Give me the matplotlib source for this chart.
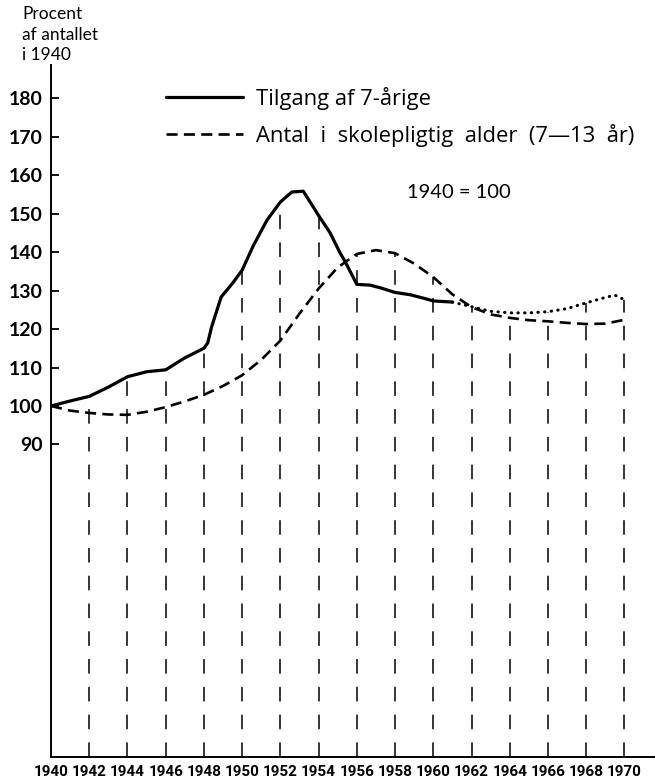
import numpy as np
import matplotlib
matplotlib.use("Agg")
import matplotlib.pyplot as plt

# Tilgang af 7-aarige (solid, measured part)
tilgang_years = [1940, 1941, 1942, 1943, 1944, 1945, 1946, 1947, 1948, 1948.2, 1948.4,
                 1948.9, 1949.5, 1950, 1950.6, 1951.3, 1952, 1952.6, 1953.2, 1954,
                 1954.6, 1955.1, 1955.4, 1956, 1956.7, 1957.3, 1958, 1958.8, 1959.5,
                 1960, 1961]
tilgang_vals = [100, 101.3, 102.5, 104.9, 107.6, 108.9, 109.4, 112.5, 115, 116.4, 120.5,
                128.3, 131.9, 135.3, 141.8, 148.3, 153, 155.6, 155.8, 149.5,
                145, 140, 137.4, 131.6, 131.4, 130.6, 129.5, 128.9, 128,
                127.3, 127]

# Tilgang, prognosis (dotted)
prog_years = [1961, 1962, 1963, 1964, 1965, 1966, 1967, 1968, 1969, 1969.5, 1970]
prog_vals = [127, 125.8, 124.6, 124.2, 124.2, 124.5, 125.3, 126.8, 128.2, 128.8, 127.6]

# Antal i skolepligtig alder (dashed)
antal_years = list(range(1940, 1971))
antal_vals = [100, 98.8, 98.2, 97.8, 97.7, 98.5, 99.7, 101.2, 102.9, 105.2,
              108, 112, 117, 124, 130.5, 136, 139.5, 140.5, 139.7, 137,
              133.5, 129, 125.7, 123.8, 122.9, 122.3, 122, 121.6, 121.3, 121.4, 122.4]

grid_years = list(range(1942, 1971, 2))
x_ticks = list(range(1940, 1971, 2))
y_ticks = list(range(90, 190, 10))

plt.rcParams['lines.scale_dashes'] = False
txt_font = ['Lato', 'DejaVu Sans']
leg_font = ['Open Sans', 'DejaVu Sans']
num_font = ['Roboto', 'DejaVu Sans']

fig = plt.figure(figsize=(6.55, 7.82), dpi=100)
ax = fig.add_axes([51/655, 25/782, 1 - 51/655, (757 - 65)/782])

# vertical dashed guide lines from the axis up to the highest curve
all_t_years = tilgang_years + prog_years[1:]
all_t_vals = tilgang_vals + prog_vals[1:]
tops = np.maximum(np.interp(grid_years, all_t_years, all_t_vals),
                  np.interp(grid_years, antal_years, antal_vals))
ax.vlines(grid_years, 8.8, tops, colors='black', linewidth=1.1,
          linestyles=[(0, (10.5, 9.5))])

ax.plot(tilgang_years, tilgang_vals, color='black', lw=2.3,
        solid_capstyle='round', label='Tilgang af 7-årige')
ax.plot(prog_years, prog_vals, color='black', lw=2.2, linestyle=(0, (0.3, 4.5)),
        dash_capstyle='round')
ax.plot(antal_years, antal_vals, color='black', lw=1.9, linestyle=(0, (8, 4.5)),
        label='Antal  i  skolepligtig  alder  (7—13  år)')

ax.set_xlim(1940, 1971.6)
ax.set_ylim(8.8, 188.6)
ax.spines['top'].set_visible(False)
ax.spines['right'].set_visible(False)
ax.spines['left'].set_linewidth(1.4)
ax.spines['bottom'].set_linewidth(1.4)

ax.set_yticks(y_ticks)
ax.set_yticklabels([str(v) for v in y_ticks], family=txt_font, fontweight='bold',
                   fontsize=14)
ax.tick_params(axis='y', direction='in', length=6, width=1.3, pad=6)

ax.set_xticks(x_ticks)
ax.set_xticklabels([str(v) for v in x_ticks], family=num_font, fontweight='bold',
                   fontsize=11)
ax.tick_params(axis='x', length=0, pad=6)

fig.text(22/655, 1 - 6/782, 'Procent\naf antallet\ni 1940', family=txt_font,
         fontsize=12.5, ha='left', va='top', linespacing=1.35)

leg = ax.legend(loc='upper left', bbox_to_anchor=(166/655, 1 - 87/782),
                bbox_transform=fig.transFigure, frameon=False, borderpad=0,
                borderaxespad=0, handlelength=3.5, handletextpad=0.6,
                labelspacing=0.62, prop={'family': leg_font, 'size': 15.8})

fig.text(459/655, 1 - 192/782, '1940 = 100', family=txt_font, fontsize=14.5,
         ha='center', va='center')

fig.savefig('out.png', dpi=100)
